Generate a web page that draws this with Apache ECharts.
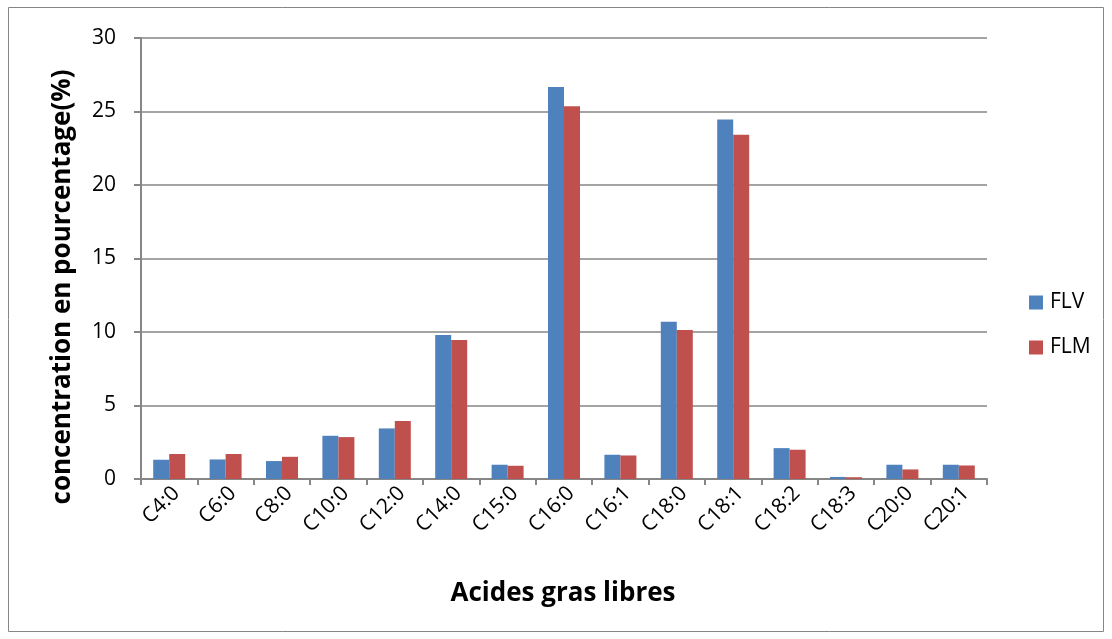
<!DOCTYPE html>
<html><head><meta charset="utf-8">
<script src="https://cdn.jsdelivr.net/npm/echarts@6/dist/echarts.min.js"></script>
<style>html,body{margin:0;padding:0;background:#fff}#c{width:1112px;height:639px}</style>
</head><body><div id="c"></div>
<script>
const categories = ["C4:0","C6:0","C8:0","C10:0","C12:0","C14:0","C15:0","C16:0","C16:1","C18:0","C18:1","C18:2","C18:3","C20:0","C20:1"];
const flv = [1.31,1.33,1.22,2.94,3.44,9.80,0.97,26.67,1.65,10.69,24.46,2.10,0.14,0.97,0.97];
const flm = [1.70,1.70,1.51,2.85,3.94,9.46,0.90,25.36,1.60,10.14,23.41,1.99,0.12,0.65,0.92];
const yTicks = {min:0,max:30,interval:5};
const font = "'Open Sans', 'Noto Sans', sans-serif";
const chart = echarts.init(document.getElementById('c'), null, {renderer:'canvas'});
chart.setOption({
  animation:false,
  backgroundColor:'#fff',
  grid:{left:141,right:125,top:38,bottom:160,containLabel:false},
  legend:{orient:'vertical',left:1024,top:287,itemWidth:14,itemHeight:14,itemGap:24,icon:'rect',
    textStyle:{fontFamily:font,fontSize:21,color:'#000',padding:[0,0,0,2]},data:['FLV','FLM']},
  xAxis:{type:'category',data:categories,
    axisLine:{lineStyle:{color:'#868686',width:2}},
    axisTick:{show:true,alignWithLabel:false,length:6,lineStyle:{color:'#868686',width:2}},
    axisLabel:{rotate:45,fontFamily:font,fontSize:21,color:'#000',margin:18,padding:[0,-10,0,0]}},
  yAxis:{type:'value',min:yTicks.min,max:yTicks.max,interval:yTicks.interval,
    axisLine:{show:true,lineStyle:{color:'#868686',width:2}},
    axisTick:{show:true,length:7,lineStyle:{color:'#868686',width:2}},
    splitLine:{lineStyle:{color:'#868686',width:1.5}},
    axisLabel:{fontFamily:font,fontSize:21,color:'#000',margin:25}},
  graphic:[
    {type:'rect',shape:{x:8.5,y:7.5,width:1095,height:624},style:{fill:'none',stroke:'#868686',lineWidth:1}},
    {type:'text',x:63,y:287,rotation:Math.PI/2,
      style:{text:'concentration en pourcentage(%)',fontFamily:font,fontSize:26,fontWeight:'bold',fill:'#000',align:'center',verticalAlign:'middle'}},
    {type:'text',x:563,y:594,
      style:{text:'Acides gras libres',fontFamily:font,fontSize:26,fontWeight:'bold',fill:'#000',align:'center',verticalAlign:'middle'}}
  ],
  series:[
    {name:'FLV',type:'bar',data:flv,barWidth:16,barGap:'0%',itemStyle:{color:'#4F81BD'}},
    {name:'FLM',type:'bar',data:flm,barWidth:16,itemStyle:{color:'#C0504D'}}
  ]
});
</script></body></html>
